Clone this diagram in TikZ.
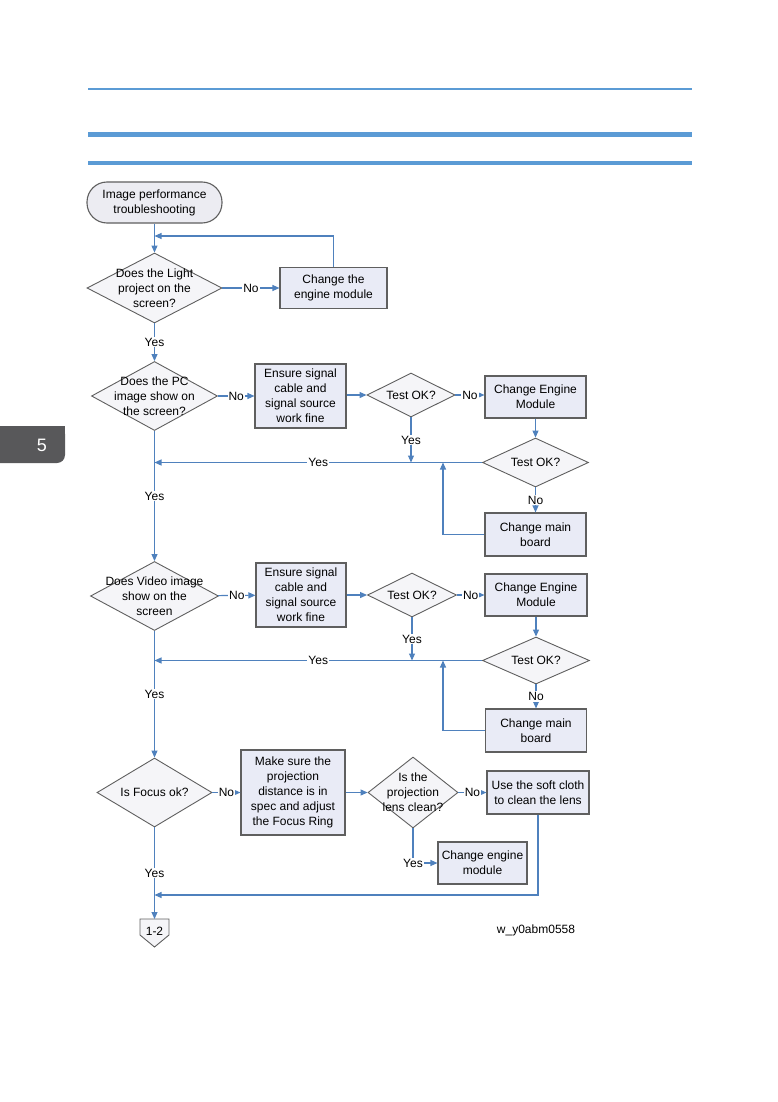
\documentclass[tikz,border=0pt]{standalone}
\usepackage{fontspec}
\setmainfont{Liberation Sans}
\usetikzlibrary{shapes.geometric,arrows.meta,calc}
\definecolor{flowline}{RGB}{79,129,189}
\definecolor{rulecol}{RGB}{91,155,213}
\definecolor{boxline}{RGB}{95,95,95}
\definecolor{boxfill}{RGB}{233,235,246}
\definecolor{diafill}{RGB}{245,245,248}
\definecolor{termfill}{RGB}{236,236,242}
\definecolor{tabgray}{RGB}{88,88,90}
\begin{document}
\begin{tikzpicture}[x=1pt,y=-1pt,
  every node/.style={font=\fontsize{12}{15}\selectfont},
  proc/.style={draw=boxline,fill=boxfill,line width=1.1pt,align=center,inner sep=0pt},
  decide/.style={diamond,draw=boxline,fill=diafill,line width=0.9pt,inner sep=0pt},
  arr/.style={draw=flowline,line width=1.1pt,-{Triangle[length=7pt,width=6pt]}},
  lbl/.style={fill=white,inner sep=1pt}]
\useasboundingbox (0,0) rectangle (777,1102);

\draw[rulecol,line width=2pt] (88,89) -- (692,89);
\draw[rulecol,line width=5pt] (88,134.5) -- (692,134.5);
\draw[rulecol,line width=4pt] (88,163) -- (692,163);

\fill[tabgray,rounded corners=8pt] (-20,426) rectangle (65,463);
\fill[tabgray] (30,426) rectangle (65,445);
\node[text=white,font=\fontsize{18}{18}\selectfont] (tab) at (42,445) {5};

\node[proc,rounded corners=20pt,fill=termfill,minimum width=135pt,minimum height=41pt] (start) at (154.5,202.5) {Image performance\\troubleshooting};
\node[decide,minimum width=135pt,minimum height=70pt,label={[align=center]center:Does the Light\\project on the\\screen?}] (light) at (154.5,288) {};
\node[proc,minimum width=107pt,minimum height=41pt] (engine1) at (333.5,288) {Change the\\engine module};
\coordinate (j1) at (154.5,236);

\node[decide,minimum width=126pt,minimum height=69pt,label={[align=center]center:Does the PC\\image show on\\the screen?}] (pc) at (154.5,396) {};
\node[proc,minimum width=91pt,minimum height=64pt] (signal1) at (300.5,396) {Ensure signal\\cable and\\signal source\\work fine};
\node[decide,minimum width=88pt,minimum height=44pt,label=center:Test OK?] (test1) at (411,395) {};
\node[proc,minimum width=101pt,minimum height=42pt] (engine2) at (535.5,397) {Change Engine\\Module};
\node[decide,minimum width=106pt,minimum height=49pt,label=center:Test OK?] (test2) at (535.5,462.5) {};
\node[proc,minimum width=101pt,minimum height=43pt] (board1) at (535.5,534.5) {Change main\\board};
\coordinate (j2) at (154.5,462.5);
\coordinate (up1) at (443,462.5);

\node[decide,minimum width=128pt,minimum height=69pt,label={[align=center]center:Does Video image\\show on the\\screen}] (video) at (154.5,596) {};
\node[proc,minimum width=90pt,minimum height=64pt] (signal2) at (301,595) {Ensure signal\\cable and\\signal source\\work fine};
\node[decide,minimum width=89pt,minimum height=44pt,label=center:Test OK?] (test3) at (412,595) {};
\node[proc,minimum width=102pt,minimum height=42pt] (engine3) at (536,595) {Change Engine\\Module};
\node[decide,minimum width=107pt,minimum height=47pt,label=center:Test OK?] (test4) at (536,660.5) {};
\node[proc,minimum width=101pt,minimum height=43pt] (board2) at (536,730.5) {Change main\\board};
\coordinate (j3) at (154.5,660.5);
\coordinate (up2) at (443,660.5);

\node[decide,minimum width=115pt,minimum height=69pt,label={center:Is Focus ok?}] (focus) at (154.5,792.5) {};
\node[proc,minimum width=104pt,minimum height=85pt] (range) at (293,792.5) {Make sure the\\projection\\distance is in\\spec and adjust\\the Focus Ring};
\node[decide,minimum width=90pt,minimum height=71pt,label={[align=center]center:Is the\\projection\\lens clean?}] (lens) at (413,792.5) {};
\node[proc,minimum width=102pt,minimum height=43pt] (cloth) at (538,792.5) {Use the soft cloth\\to clean the lens};
\node[proc,minimum width=89pt,minimum height=42pt] (engine4) at (482.5,863) {Change engine\\module};
\coordinate (j4) at (154.5,895);

\coordinate (offtop) at (154.5,919);
\draw[boxline,fill=diafill,line width=0.9pt] ($(offtop)+(-14.5,0)$) -- ($(offtop)+(14.5,0)$) -- ($(offtop)+(14.5,16)$) -- ($(offtop)+(0,28)$) -- ($(offtop)+(-14.5,16)$) -- cycle;
\node (off) at (154.5,931) {1-2};
\node (code) at (536,930) {w\_y0abm0558};

\draw[arr] (start) -- (light);
\draw[arr] (engine1.north) |- (j1);
\draw[arr] (light) -- node[lbl]{No} (engine1);
\draw[arr] (light) -- node[lbl]{Yes} (pc);

\draw[arr] (pc) -- node[lbl]{No} (signal1);
\draw[arr] (signal1.east |- test1) -- (test1);
\draw[arr] (test1) -- node[lbl]{No} (test1 -| engine2.west);
\draw[arr] (engine2) -- (test2);
\draw[arr] (test2) -- node[lbl]{Yes} (j2);
\draw[arr] (test1) -- node[lbl]{Yes} (test1 |- j2);
\draw[arr] (test2) -- node[lbl]{No} (board1);
\draw[arr] (board1) -| (up1);
\draw[arr] (pc) -- node[lbl]{Yes} (video);

\draw[arr] (video) -- node[lbl]{No} (signal2);
\draw[arr] (signal2) -- (test3);
\draw[arr] (test3) -- node[lbl]{No} (engine3);
\draw[arr] (engine3) -- (test4);
\draw[arr] (test4) -- node[lbl]{Yes} (j3);
\draw[arr] (test3) -- node[lbl]{Yes} (test3 |- j3);
\draw[arr] (test4) -- node[lbl]{No} (board2);
\draw[arr] (board2) -| (up2);
\draw[arr] (video) -- node[lbl]{Yes} (focus);

\draw[arr] (focus) -- node[lbl]{No} (range);
\draw[arr] (range) -- (lens);
\draw[arr] (lens) -- node[lbl]{No} (cloth);
\draw[arr] (lens) |- node[lbl]{Yes} (engine4);
\draw[arr] (cloth) |- (j4);
\draw[arr] (focus) -- node[lbl]{Yes} (offtop);
\end{tikzpicture}
\end{document}
